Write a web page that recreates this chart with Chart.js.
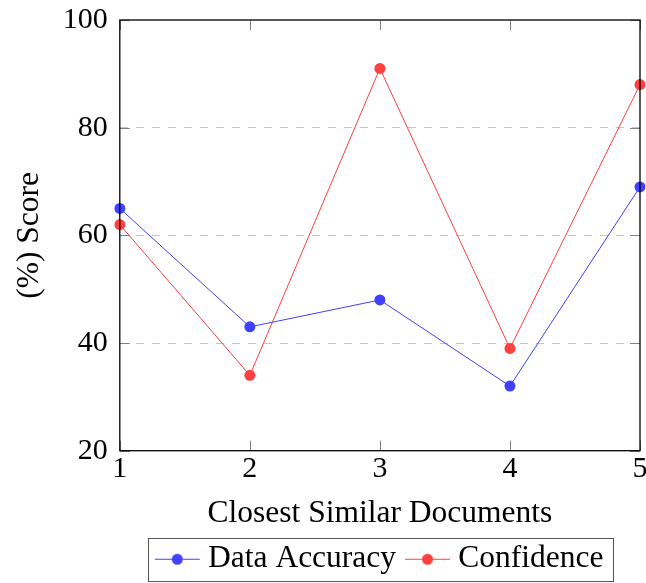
<!DOCTYPE html>
<html>
<head>
<meta charset="utf-8">
<script src="https://cdn.jsdelivr.net/npm/chart.js@4.4.1/dist/chart.umd.min.js"></script>
<style>
  html, body { margin: 0; padding: 0; background: #fff; }
  #wrap { width: 646px; height: 583px; }
</style>
</head>
<body>
<div id="wrap"><canvas id="c" width="646" height="583"></canvas></div>
<script>
const categories = ['1', '2', '3', '4', '5'];
const dataAccuracy = [65, 43, 48, 32, 69];
const confidence = [62, 34, 91, 39, 88];
const yTicks = [20, 40, 60, 80, 100];

const BLUE = 'rgb(64,64,255)';
const RED = 'rgb(255,64,64)';
const FONT = "'Liberation Serif', 'Times New Roman', serif";

// legend symbol: canvas W wide, visible line from A to A+45
const SYM_W = 53, SYM_A = 7, SYM_LEN = 45, SYM_BOX = 36;
function legendSymbol(color) {
  const c = document.createElement('canvas');
  c.width = SYM_W; c.height = 14;
  const x = c.getContext('2d');
  x.strokeStyle = color; x.lineWidth = 1;
  x.beginPath(); x.moveTo(SYM_A, 7.5); x.lineTo(SYM_A + SYM_LEN, 7.5); x.stroke();
  x.fillStyle = color;
  x.beginPath(); x.arc(SYM_A + SYM_LEN / 2, 7.5, 5.5, 0, Math.PI * 2); x.fill();
  return c;
}
const symBlue = legendSymbol(BLUE);
const symRed = legendSymbol(RED);

const framePlugin = {
  id: 'frame',
  afterDatasetsDraw(chart) {
    const { ctx, chartArea: a, scales } = chart;
    ctx.save();
    ctx.strokeStyle = '#808080';
    ctx.lineWidth = 1;
    const tl = 10;
    ctx.beginPath();
    scales.y.ticks.forEach(t => {
      const y = Math.round(scales.y.getPixelForValue(t.value)) + 0.5;
      ctx.moveTo(a.left, y); ctx.lineTo(a.left + tl, y);
      ctx.moveTo(a.right, y); ctx.lineTo(a.right - tl, y);
    });
    scales.x.ticks.forEach((t, i) => {
      const x = Math.round(scales.x.getPixelForTick(i)) + 0.5;
      ctx.moveTo(x, a.top); ctx.lineTo(x, a.top + tl);
      ctx.moveTo(x, a.bottom); ctx.lineTo(x, a.bottom - tl);
    });
    ctx.stroke();
    ctx.strokeStyle = '#000';
    ctx.lineWidth = 1.3;
    ctx.strokeRect(a.left, a.top, a.right - a.left, a.bottom - a.top);
    ctx.restore();
  },
  afterDraw(chart) {
    const lg = chart.legend;
    if (!lg || !lg.legendHitBoxes || !lg.legendHitBoxes.length) return;
    const hb = lg.legendHitBoxes;
    const first = hb[0];
    const visStart = first.left + SYM_BOX / 2 - SYM_W / 2 + SYM_A;
    const left = visStart - 7;
    const right = Math.max(...hb.map(h => h.left + h.width)) + 9;
    const top = first.top - 5.5;
    const bottom = first.top + first.height + 5.5;
    const ctx = chart.ctx;
    ctx.save();
    ctx.strokeStyle = '#555';
    ctx.lineWidth = 1;
    ctx.strokeRect(Math.round(left) + 0.5, Math.round(top) + 0.5, Math.round(right - left), Math.round(bottom - top));
    ctx.restore();
  }
};

new Chart(document.getElementById('c'), {
  type: 'line',
  data: {
    labels: categories,
    datasets: [
      { label: 'Data Accuracy', data: dataAccuracy, borderColor: BLUE, backgroundColor: BLUE,
        borderWidth: 1, pointRadius: 5.5, pointHoverRadius: 5.5, pointBorderWidth: 0, tension: 0, pointStyle: 'circle' },
      { label: 'Confidence', data: confidence, borderColor: RED, backgroundColor: RED,
        borderWidth: 1, pointRadius: 5.5, pointHoverRadius: 5.5, pointBorderWidth: 0, tension: 0, pointStyle: 'circle' }
    ]
  },
  options: {
    responsive: false,
    animation: false,
    devicePixelRatio: 1,
    layout: { padding: { top: 20, right: 6, left: 0, bottom: -1.5 } },
    plugins: {
      tooltip: { enabled: false },
      legend: {
        position: 'bottom',
        fullSize: false,
        labels: {
          usePointStyle: true,
          pointStyleWidth: SYM_BOX,
          padding: 10.5,
          color: '#000',
          font: { family: FONT, size: 31.5 },
          generateLabels(chart) {
            return chart.data.datasets.map((ds, i) => ({
              text: ds.label,
              fillStyle: ds.backgroundColor,
              strokeStyle: ds.borderColor,
              lineWidth: 0,
              pointStyle: i === 0 ? symBlue : symRed,
              hidden: false,
              datasetIndex: i,
              fontColor: '#000'
            }));
          }
        }
      }
    },
    scales: {
      x: {
        type: 'category',
        offset: false,
        grid: { display: false, drawTicks: false },
        border: { display: false },
        ticks: { color: '#000', padding: 0, font: { family: FONT, size: 30 }, maxRotation: 0 },
        title: { display: true, text: 'Closest Similar Documents', color: '#000',
                 font: { family: FONT, size: 31.5 }, padding: { top: 8, bottom: 0 } },
        afterFit(scale) { scale.paddingLeft = 0; scale.paddingRight = 0; }
      },
      y: {
        min: 20, max: 100,
        afterBuildTicks(scale) { scale.ticks = yTicks.map(v => ({ value: v })); },
        grid: {
          drawTicks: false,
          color: ctx => (ctx.tick && (ctx.tick.value === 20 || ctx.tick.value === 100)) ? 'rgba(0,0,0,0)' : '#c4c4c4',
          lineWidth: 1
        },
        border: { display: false, dash: [8, 8] },
        ticks: { color: '#000', padding: 12, font: { family: FONT, size: 30 } },
        title: { display: true, text: '(%) Score', color: '#000',
                 font: { family: FONT, size: 31.5 }, padding: { top: 11, bottom: 2 } },
        afterFit(scale) { scale.paddingTop = 0; scale.paddingBottom = 0; }
      }
    }
  },
  plugins: [framePlugin]
});
</script>
</body>
</html>
